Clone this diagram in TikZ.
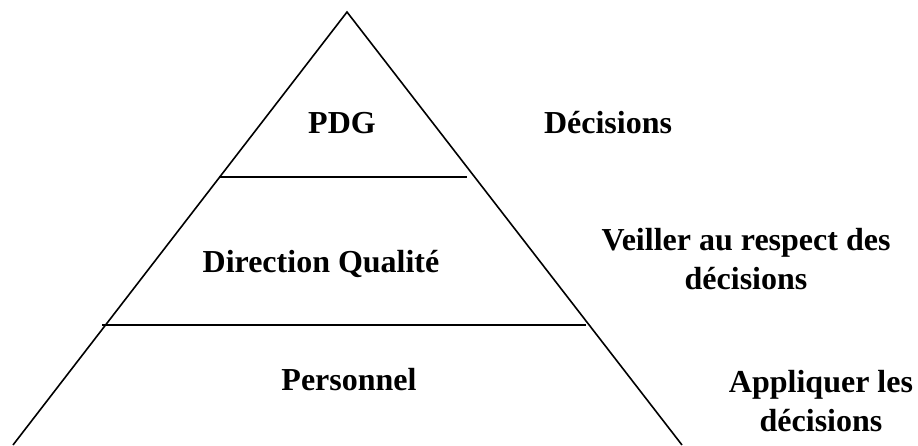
\documentclass[tikz,border=0pt]{standalone}
\usepackage{fontspec}
\setmainfont{Liberation Serif}
\begin{document}
\begin{tikzpicture}[x=1pt,y=-1pt,
  lbl/.style={font=\fontsize{32}{39}\selectfont\bfseries, inner sep=0pt, align=center},
  edge/.style={line width=1.6pt}]
\useasboundingbox (0,0) rectangle (918,445);
\coordinate (apex) at (347,12);
\coordinate (bl) at (13,445);
\coordinate (br) at (682,445);
\coordinate (l1a) at (219,177);
\coordinate (l1b) at (467,177);
\coordinate (l2a) at (102,325);
\coordinate (l2b) at (586,325);
\draw[edge] (bl) -- (apex) -- (br);
\draw[edge] (l1a) -- (l1b);
\draw[edge] (l2a) -- (l2b);
\node[lbl] (pdg) at (342,123) {PDG};
\node[lbl] (dec) at (608,123) {Décisions};
\node[lbl] (dq) at (321,264) {Direction Qualité};
\node[lbl] (veil) at (746,259) {Veiller au respect des\\décisions};
\node[lbl] (pers) at (349,380) {Personnel};
\node[lbl] (appl) at (821,401) {Appliquer les\\décisions};
\end{tikzpicture}
\end{document}
